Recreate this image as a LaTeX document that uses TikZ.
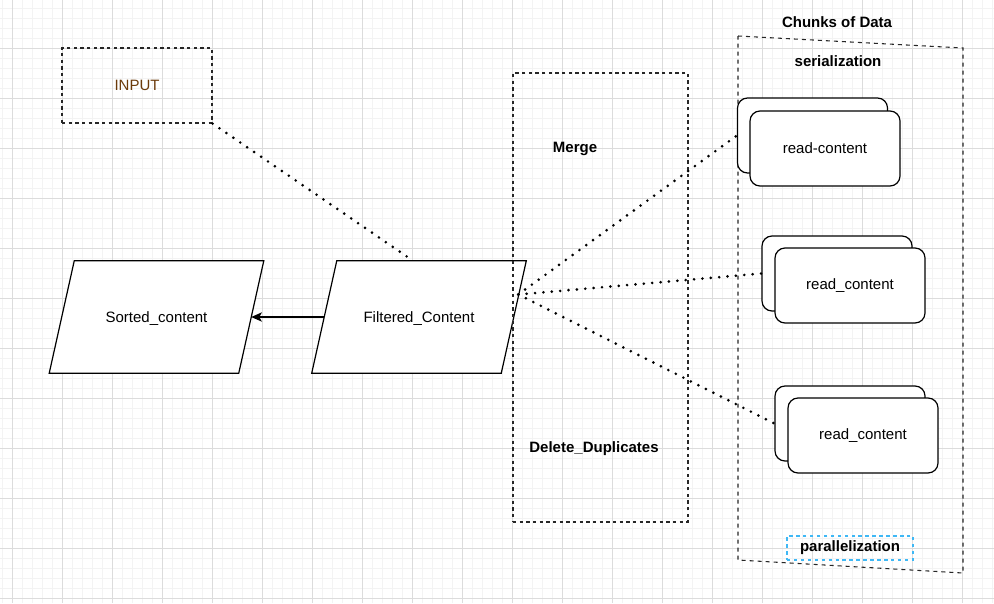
\documentclass[tikz,border=0pt]{standalone}
\usepackage{fontspec}
\setmainfont{Liberation Sans}
\usetikzlibrary{calc,arrows.meta}
\definecolor{inputbrown}{HTML}{6B3A0A}
\definecolor{parblue}{HTML}{3FB8F5}
\definecolor{gridminor}{HTML}{F3F3F3}
\definecolor{gridmajor}{HTML}{DCDCDC}
\tikzset{
  lbl/.style={font=\fontsize{11.25}{13}\selectfont},
  bold lbl/.style={font=\fontsize{11.25}{13}\selectfont\bfseries},
  dashbox/.style={draw=black!85, line width=.8pt, dash pattern=on 2.4pt off 2.6pt},
  iobox/.style={minimum width=141.75pt, minimum height=84pt, lbl},
  chunk/.style={draw, line width=.9pt, fill=white, rounded corners=7.5pt,
    minimum width=112.5pt, minimum height=56.25pt, lbl},
  dotline/.style={line width=2.2pt, line cap=round, dash pattern=on 0pt off 6.3pt}
}
\begin{document}
\begin{tikzpicture}[x=.75pt,y=-.75pt,>={Stealth[length=8pt,width=7pt,inset=2pt]}]
    \useasboundingbox (0,0) rectangle (994,603);
    \fill[white] (0,0) rectangle (994,603);
    % grid
    \foreach \gx in {2,12,...,992} \draw[gridminor,line width=.6pt] (\gx,0)--(\gx,603);
    \foreach \gy in {8,18,...,598} \draw[gridminor,line width=.6pt] (0,\gy)--(994,\gy);
    \foreach \gx in {12,62,...,962} \draw[gridmajor,line width=.6pt] (\gx,0)--(\gx,603);
    \foreach \gy in {48,98,...,598} \draw[gridmajor,line width=.6pt] (0,\gy)--(994,\gy);

    \node[dashbox, minimum width=112.5pt, minimum height=56.25pt, text=inputbrown, lbl] (input) at (137,85.5) {INPUT};

    % parallelograms
    \node[iobox] (sorted) at (156.5,317) {};
    \node[iobox] (filtered) at (419,317) {};
    \draw[line width=.9pt, fill=white] ([xshift=9.4pt]sorted.north west) -- ([xshift=9.4pt]sorted.north east)
      -- ([xshift=-9.4pt]sorted.south east) -- ([xshift=-9.4pt]sorted.south west) -- cycle;
    \draw[line width=.9pt, fill=white] ([xshift=9.4pt]filtered.north west) -- ([xshift=9.4pt]filtered.north east)
      -- ([xshift=-9.4pt]filtered.south east) -- ([xshift=-9.4pt]filtered.south west) -- cycle;
    \node[lbl] at ([yshift=-1pt]sorted) {Sorted\_content};
    \node[lbl] at ([yshift=-1pt]filtered) {Filtered\_Content};
    \draw[->,line width=.9pt] (filtered.west) -- (sorted.east);
    \draw[dotline] (input.south east) -- ([xshift=-4.5pt]filtered.north);

    \node[dashbox, minimum width=131.25pt, minimum height=336.75pt] (mergebox) at (600.5,297.5) {};
    \node[bold lbl] (merge) at (575,149) {Merge};
    \node[bold lbl] (dedup) at (594,449) {Delete\_Duplicates};

    % chunks of data
    \draw[dashbox, line width=.8pt, dash pattern=on 3pt off 3pt] (738,36) -- (963,48) -- (963,573) -- (738,560) -- cycle;
    \node[bold lbl] (chunks) at (837,22) {Chunks of Data};
    \node[bold lbl] (serial) at (838,61) {serialization};
    \node[draw=parblue, line width=1pt, dash pattern=on 2.6pt off 2.6pt,
      minimum width=94.5pt, minimum height=18pt, bold lbl] (parallel) at (850,548) {parallelization};

    \node[chunk] (readA back) at (812.5,135.5) {};
    \node[chunk] (readA) at (825,148.5) {read-content};
    \node[chunk] (readB back) at (837,273.5) {};
    \node[chunk] (readB) at (850,285.5) {read\_content};
    \node[chunk] (readC back) at (850,423.5) {};
    \node[chunk] (readC) at (863,435.5) {read\_content};

    \coordinate (fork) at ([xshift=3.4pt]$(filtered.north east)!0.3!(filtered.south east)$);
    \draw[dotline] (fork) -- (readA back.west);
    \draw[dotline] (fork) -- (readB back.west);
    \draw[dotline] (fork) -- (readC back.west);
  \end{tikzpicture}
\end{document}
